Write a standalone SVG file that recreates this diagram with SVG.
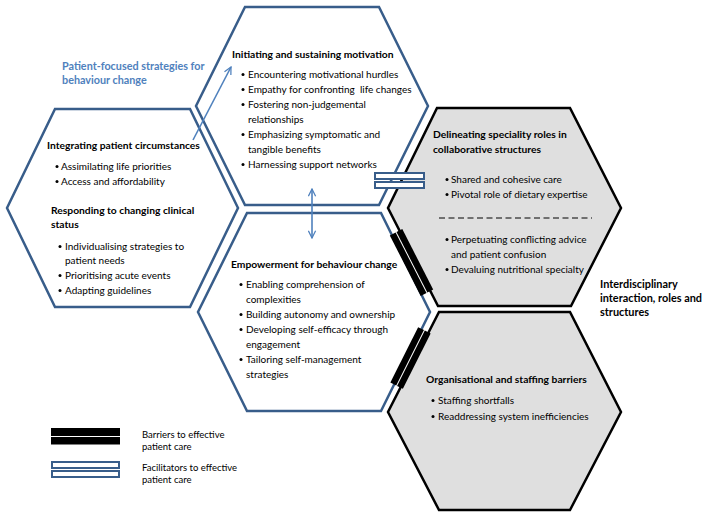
<svg xmlns="http://www.w3.org/2000/svg" width="708" height="519" viewBox="0 0 708 519">
<defs>
<style>
.hexb{fill:#fff;stroke:#385D8A;stroke-width:2.5}
.hexg{fill:#DFDFDF;stroke:#000;stroke-width:2.5}
text{font-family:Lato,"Open Sans","Liberation Sans",sans-serif;font-size:10px;fill:#000}
.h{font-weight:bold;font-size:10.3px}
.blue{fill:#4F81BD;font-weight:bold;font-size:10.8px}
.lbl{font-weight:bold;font-size:10.9px}
.lg{font-size:9.5px}
.arrow{stroke:#4F81BD;stroke-width:1.6;fill:none}
.fac{fill:#fff;stroke:#385D8A;stroke-width:2}
.bar{fill:#000}
.b{fill:#000}
.dash{stroke:#000;stroke-width:1;stroke-dasharray:6,3.5}
</style>
<marker id="ah" viewBox="0 0 10 10" refX="9" refY="5" markerWidth="9" markerHeight="9" orient="auto-start-reverse" markerUnits="userSpaceOnUse">
<path d="M1,1 L9,5 L1,9" fill="none" stroke="#4F81BD" stroke-width="1.4"/>
</marker>
</defs>

<text class="blue" x="62" y="70">Patient-focused strategies for</text>
<text class="blue" x="62" y="84">behaviour change</text>

<g id="node-integrating">
<polygon class="hexb" points="55,109 190,109 238,208 190,307 55,307 7,208"/>
<text class="h" x="47" y="149">Integrating patient circumstances</text>
<circle class="b" cx="57" cy="166.5" r="1.5"/><text x="61" y="170">Assimilating life priorities</text>
<circle class="b" cx="57" cy="181.5" r="1.5"/><text x="61" y="185">Access and affordability</text>
<text class="h" x="51" y="214">Responding to changing clinical</text>
<text class="h" x="51" y="228">status</text>
<circle class="b" cx="60" cy="246.5" r="1.5"/><text x="65" y="250">Individualising strategies to</text>
<text x="65" y="264">patient needs</text>
<circle class="b" cx="60" cy="275.5" r="1.5"/><text x="65" y="279">Prioritising acute events</text>
<circle class="b" cx="60" cy="290.5" r="1.5"/><text x="65" y="294">Adapting guidelines</text>
</g>

<g id="node-motivation">
<polygon class="hexb" points="245,7 379,7 428,106 379,205 245,205 196,106"/>
<text class="h" x="232" y="58">Initiating and sustaining motivation</text>
<circle class="b" cx="243" cy="74.5" r="1.5"/><text x="248" y="78">Encountering motivational hurdles</text>
<circle class="b" cx="243" cy="89.5" r="1.5"/><text x="248" y="93" style="white-space:pre">Empathy for confronting  life changes</text>
<circle class="b" cx="243" cy="104.5" r="1.5"/><text x="248" y="108">Fostering non-judgemental</text>
<text x="248" y="123">relationships</text>
<circle class="b" cx="243" cy="134.5" r="1.5"/><text x="248" y="138">Emphasizing symptomatic and</text>
<text x="248" y="153">tangible benefits</text>
<circle class="b" cx="243" cy="164.5" r="1.5"/><text x="248" y="168">Harnessing support networks</text>
</g>

<g id="node-empowerment">
<polygon class="hexb" points="247,213 381,213 430,312 381,411 247,411 198,312"/>
<text class="h" x="231" y="268">Empowerment for behaviour change</text>
<circle class="b" cx="241" cy="284.5" r="1.5"/><text x="246" y="288">Enabling comprehension of</text>
<text x="246" y="303">complexities</text>
<circle class="b" cx="241" cy="314.5" r="1.5"/><text x="246" y="318">Building autonomy and ownership</text>
<circle class="b" cx="241" cy="329.5" r="1.5"/><text x="246" y="333">Developing self-efficacy through</text>
<text x="246" y="348">engagement</text>
<circle class="b" cx="241" cy="359.5" r="1.5"/><text x="246" y="363">Tailoring self-management</text>
<text x="246" y="378">strategies</text>
</g>

<g id="node-delineating">
<polygon class="hexg" points="437,108 570,108 621,208 571,306 438,306 388,208"/>
<text class="h" x="433" y="138">Delineating speciality roles in</text>
<text class="h" x="433" y="153">collaborative structures</text>
<circle class="b" cx="447" cy="179.5" r="1.5"/><text x="451" y="183">Shared and cohesive care</text>
<circle class="b" cx="447" cy="194.5" r="1.5"/><text x="451" y="198">Pivotal role of dietary expertise</text>
<line class="dash" x1="439" y1="218" x2="592" y2="218"/>
<circle class="b" cx="447" cy="239.5" r="1.5"/><text x="451" y="243">Perpetuating conflicting advice</text>
<text x="451" y="258">and patient confusion</text>
<circle class="b" cx="447" cy="269.5" r="1.5"/><text x="451" y="273">Devaluing nutritional specialty</text>
</g>

<g id="node-organisational">
<polygon class="hexg" points="439,312 570,312 621,412 570,510 439,510 388,412"/>
<text class="h" x="426" y="383">Organisational and staffing barriers</text>
<circle class="b" cx="433" cy="400.5" r="1.5"/><text x="438" y="404">Staffing shortfalls</text>
<circle class="b" cx="433" cy="416.5" r="1.5"/><text x="438" y="420">Readdressing system inefficiencies</text>
</g>

<g id="label-interdisciplinary">
<text class="lbl" x="600" y="288">Interdisciplinary</text>
<text class="lbl" x="600" y="302">interaction, roles and</text>
<text class="lbl" x="600" y="316">structures</text>
</g>

<g id="connectors">
<line class="arrow" x1="193" y1="140" x2="231" y2="67" marker-end="url(#ah)"/>
<line class="arrow" x1="312" y1="189" x2="312" y2="238" marker-start="url(#ah)" marker-end="url(#ah)"/>
<g id="facilitator-link">
<rect class="fac" x="375" y="173" width="49" height="6"/>
<rect class="fac" x="375" y="182" width="49" height="6"/>
</g>
<g id="barrier-link-1" transform="translate(411.5,262.5) rotate(63)">
<rect class="bar" x="-34" y="-7" width="68" height="6.5"/>
<rect class="bar" x="-34" y="0.5" width="68" height="6.5"/>
</g>
<g id="barrier-link-2" transform="translate(410.5,358) rotate(116.6)">
<rect class="bar" x="-31" y="-7" width="62" height="6.5"/>
<rect class="bar" x="-31" y="0.5" width="62" height="6.5"/>
</g>
</g>

<g id="legend">
<rect class="bar" x="51" y="428" width="69" height="8"/>
<rect class="bar" x="51" y="437" width="69" height="7.5"/>
<text class="lg" x="142" y="438">Barriers to effective</text>
<text class="lg" x="142" y="450">patient care</text>
<rect class="fac" x="52" y="462" width="67" height="6"/>
<rect class="fac" x="52" y="471" width="67" height="6"/>
<text class="lg" x="142" y="471">Facilitators to effective</text>
<text class="lg" x="142" y="483">patient care</text>
</g>
</svg>
